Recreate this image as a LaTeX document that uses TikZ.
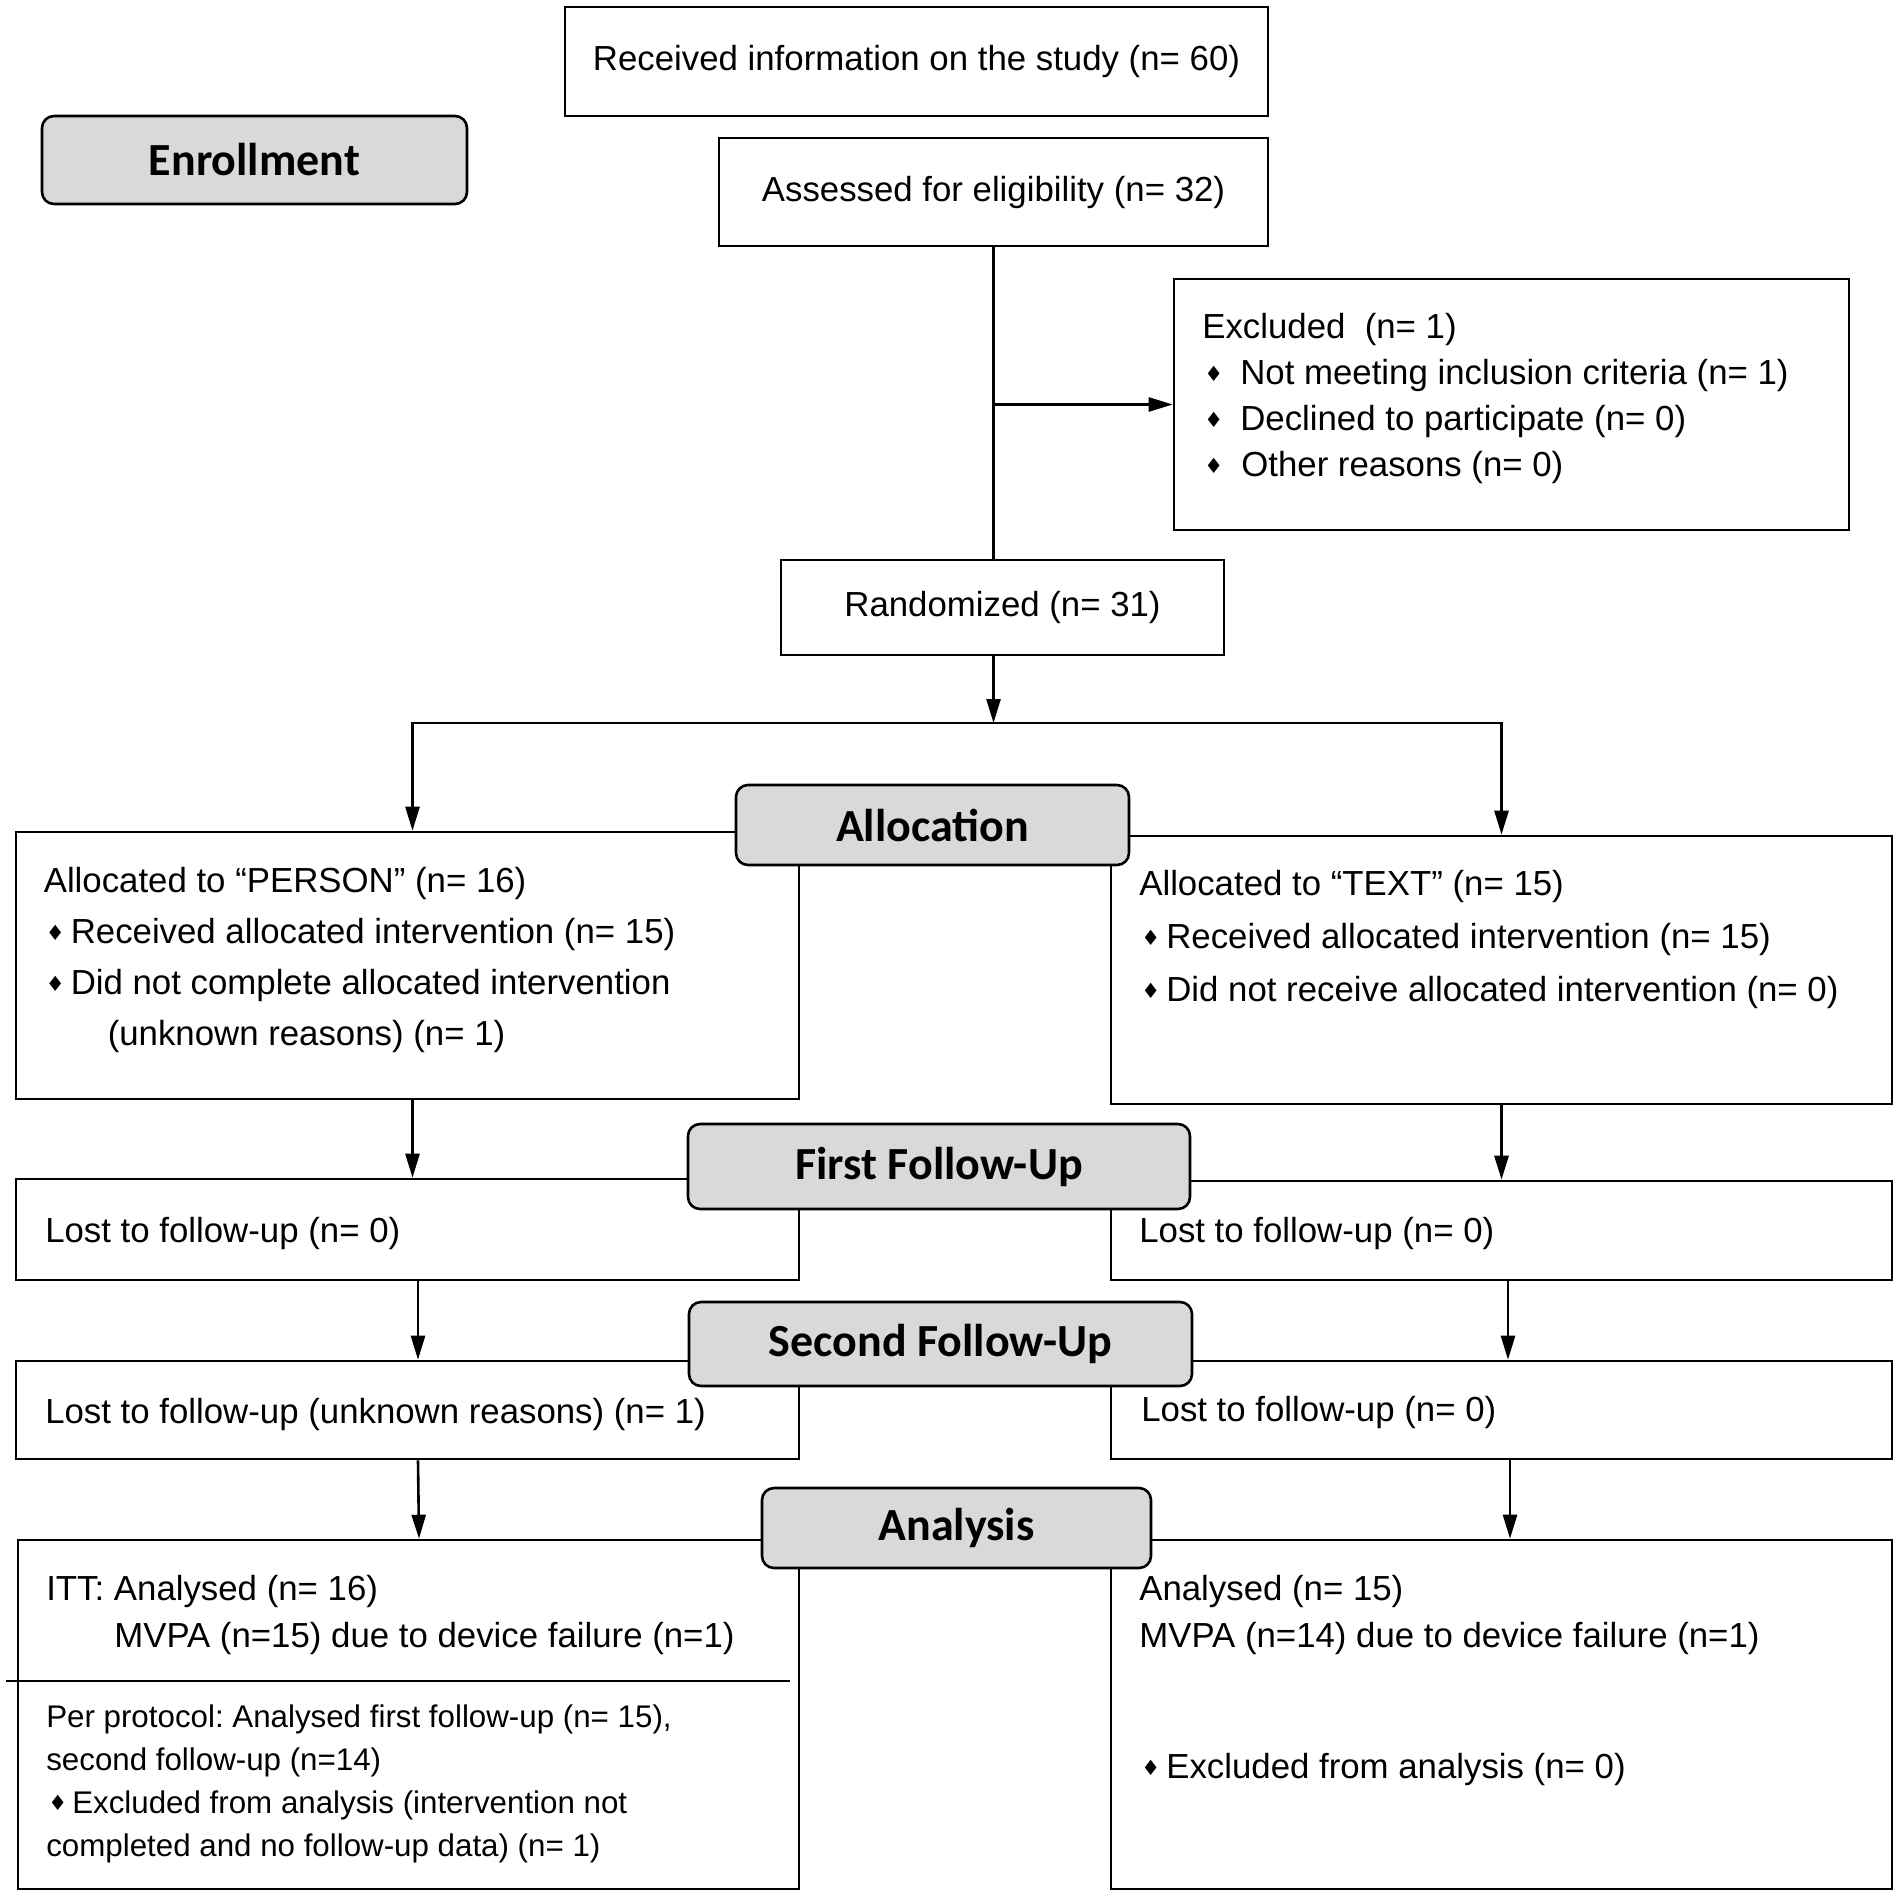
\documentclass[tikz,border=0pt]{standalone}
\usepackage{fontspec}
\setmainfont{Liberation Sans}
\newfontfamily\labfamily{Carlito}
\newfontfamily\symfamily{DejaVu Sans}
\usetikzlibrary{arrows.meta}
\definecolor{phasegray}{HTML}{D9D9D9}
\frenchspacing
\newcommand{\bul}[1][25pt]{\hspace*{2pt}\makebox[#1][l]{\raisebox{3pt}{\symfamily\fontsize{21}{21}\selectfont\char"2666}}}
\begin{document}
\begin{tikzpicture}[x=1pt,y=-1pt,>={Triangle[length=24pt,width=14pt]},line width=2.6pt,
box/.style={draw,line width=2.6pt,inner sep=0pt,font=\fontsize{34.8}{40}\selectfont},
phase/.style={box,rounded corners=12pt,fill=phasegray,font=\labfamily\bfseries\fontsize{46}{46}\selectfont},
txt/.style={anchor=north west,inner sep=0pt,align=left,font=\fontsize{34.8}{#1}\selectfont},
txt/.default=46,
small/.style={txt,font=\fontsize{31.3}{#1}\selectfont}]
\useasboundingbox (0,0) rectangle (1902,1898);
\node[box,minimum width=703pt,minimum height=109pt] (info) at (916.5,61.5) {Received information on the study (n= 60)};
\node[box,minimum width=549pt,minimum height=108pt] (assess) at (993.5,192) {Assessed for eligibility (n= 32)};
\node[box,minimum width=675pt,minimum height=251pt] (excl) at (1511.5,404.5) {};
\node[box,minimum width=443pt,minimum height=95pt] (rand) at (1002.5,607.5) {Randomized (n= 31)};
\node[box,minimum width=783pt,minimum height=267pt] (alloc-l) at (407.5,965.5) {};
\node[box,minimum width=781pt,minimum height=268pt] (alloc-r) at (1501.5,970) {};
\node[box,minimum width=783pt,minimum height=101pt] (lost1-l) at (407.5,1229.5) {};
\node[box,minimum width=781pt,minimum height=99pt] (lost1-r) at (1501.5,1230.5) {};
\node[box,minimum width=783pt,minimum height=98pt] (lost2-l) at (407.5,1410) {};
\node[box,minimum width=781pt,minimum height=98pt] (lost2-r) at (1501.5,1410) {};
\node[box,minimum width=781pt,minimum height=349pt] (ana-l) at (408.5,1714.5) {};
\node[box,minimum width=781pt,minimum height=349pt] (ana-r) at (1501.5,1714.5) {};
\coordinate (split) at (993.5,723);
\draw (assess.south) -- (assess.south |- rand.north);
\draw[->] (assess.south |- excl.west) -- (excl.west);
\draw[->] (rand.south -| split) -- (split);
\draw[->] (split) -| ([xshift=5pt]alloc-l.north);
\draw[->] (split) -| (alloc-r.north);
\draw[->] ([xshift=5pt]alloc-l.south) -- ([xshift=5pt]lost1-l.north);
\draw[->] (alloc-r.south) -- (lost1-r.north);
\draw[->] ([xshift=10.5pt]lost1-l.south) -- ([xshift=10.5pt]lost2-l.north);
\draw[->] ([xshift=6.5pt]lost1-r.south) -- ([xshift=6.5pt]lost2-r.north);
\draw[->] ([xshift=10.5pt]lost2-l.south) -- ([xshift=10.5pt]ana-l.north);
\draw[->] ([xshift=8.5pt]lost2-r.south) -- ([xshift=8.5pt]ana-r.north);
\draw (6,1681) -- (790,1681);
\node[phase,minimum width=425pt,minimum height=88pt] (enrol) at (254.5,160) {Enrollment};
\node[phase,minimum width=393pt,minimum height=80pt] (allocation) at (932.5,825) {Allocation};
\node[phase,minimum width=502pt,minimum height=85pt] (fu1) at (939,1166.5) {First Follow-Up};
\node[phase,minimum width=503pt,minimum height=84pt] (fu2) at (940.5,1344) {Second Follow-Up};
\node[phase,minimum width=389pt,minimum height=80pt] (analysis) at (956.5,1528) {Analysis};
\node[txt] (excl-t) at (1201,312) {Excluded\ \ (n= 1)\\\bul[36pt]Not meeting inclusion criteria (n= 1)\\\bul[36pt]Declined to participate (n= 0)\\\bul[37pt]Other reasons (n= 0)};
\node[txt=51] (alloc-l-t) at (42.5,866) {Allocated to “PERSON” (n= 16)\\\bul Received allocated intervention (n= 15)\\\bul Did not complete allocated intervention\\\hspace*{64pt}(unknown reasons) (n= 1)};
\node[txt=53] (alloc-r-t) at (1138,869) {Allocated to “TEXT” (n= 15)\\\bul Received allocated intervention (n= 15)\\\bul Did not receive allocated intervention (n= 0)};
\node[txt] (lost1-l-t) at (44,1216) {Lost to follow-up (n= 0)};
\node[txt] (lost1-r-t) at (1138,1216) {Lost to follow-up (n= 0)};
\node[txt] (lost2-l-t) at (44,1397) {Lost to follow-up (unknown reasons) (n= 1)};
\node[txt] (lost2-r-t) at (1140,1395) {Lost to follow-up (n= 0)};
\node[txt=47] (itt-t) at (45,1574) {ITT: Analysed (n= 16)\\\hspace*{68pt}MVPA (n=15) due to device failure (n=1)};
\node[small=43] (pp-t) at (45,1703) {Per protocol: Analysed first follow-up (n= 15),\\second follow-up (n=14)\\\bul[24pt]Excluded from analysis (intervention not\\completed and no follow-up data) (n= 1)};
\node[txt=47] (ana-r-t) at (1138,1574) {Analysed (n= 15)\\MVPA (n=14) due to device failure (n=1)};
\node[txt] (ana-r-b) at (1138,1752) {\bul Excluded from analysis (n= 0)};
\end{tikzpicture}
\end{document}
